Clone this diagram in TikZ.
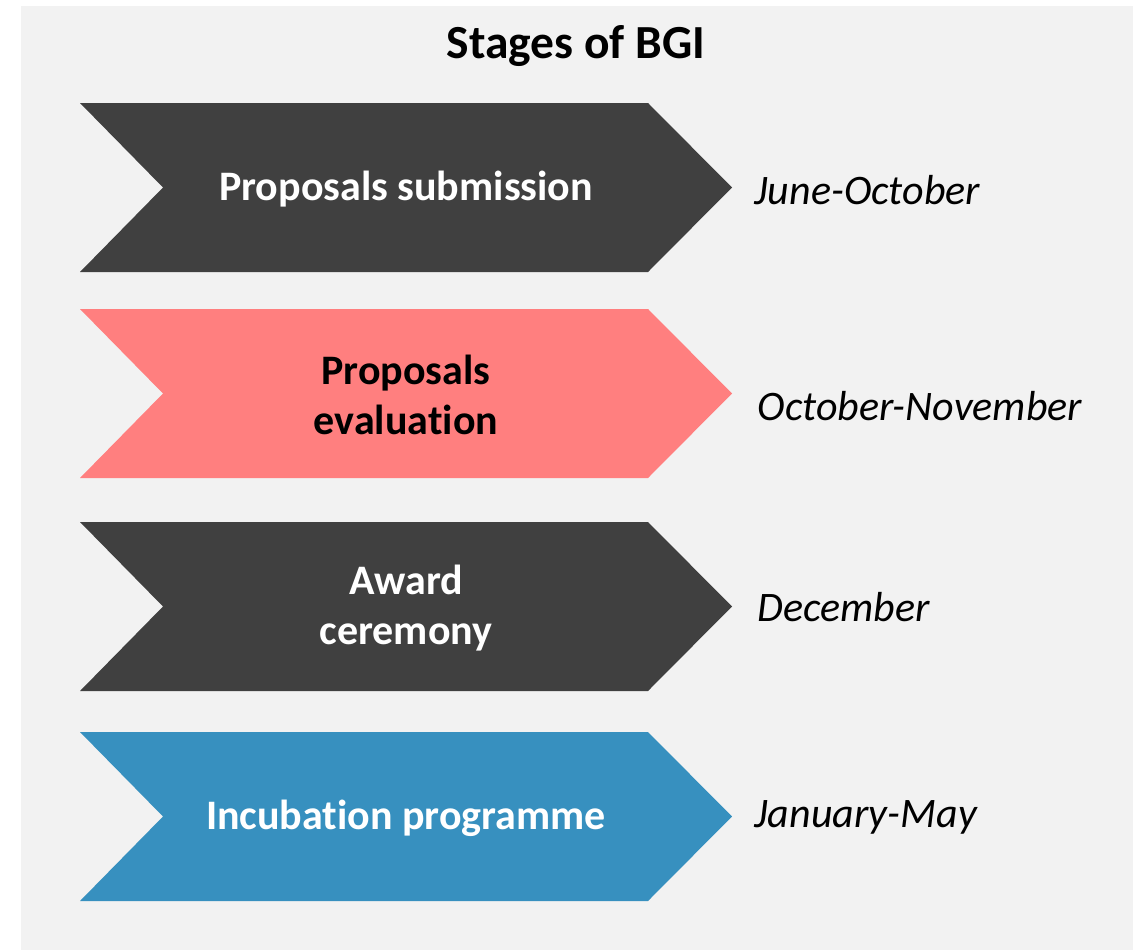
\documentclass[tikz,border=0pt]{standalone}
\usepackage{fontspec}
\setmainfont[Ligatures=NoCommon]{Carlito}
\definecolor{bgc}{HTML}{F2F2F2}
\definecolor{darkc}{HTML}{404040}
\definecolor{pinkc}{HTML}{FF7F7F}
\definecolor{bluec}{HTML}{3790BF}
\tikzset{
  lab/.style={text=white, font=\fontsize{42}{50}\selectfont\bfseries, align=center},
  date/.style={anchor=west, font=\fontsize{42}{50}\selectfont\itshape, text=black},
}
\newcommand{\chevron}[3]{% color, top, bottom
  \fill[#1] (80,#2) -- (648,#2) -- (732,{(#2+#3)/2}) -- (648,#3) -- (80,#3) -- (163,{(#2+#3)/2}) -- cycle;
}
\begin{document}
\begin{tikzpicture}[x=1pt,y=-1pt]
\useasboundingbox (0,0) rectangle (1140,950);
\fill[white] (0,0) rectangle (1140,950);
\fill[bgc] (21,6) rectangle (1133,950);
\node[font=\fontsize{47.5}{55}\selectfont\bfseries] (title) at (576,46) {Stages of BGI};
\chevron{darkc}{103}{272}
\chevron{pinkc}{309}{478}
\chevron{darkc}{522}{691}
\chevron{bluec}{732}{901}
\node[lab] (s1) at (406,189) {Proposals submission};
\node[lab, text=black] (s2) at (406,395) {Proposals\\evaluation};
\node[lab] (s3) at (406,608) {Award\\ceremony};
\node[lab] (s4) at (406,818) {Incubation programme};
\node[date] (d1) at (751,190) {June-October};
\node[date] (d2) at (754,406) {October-November};
\node[date] (d3) at (754,607) {December};
\node[date] (d4) at (751,817) {January-May};
\end{tikzpicture}
\end{document}
